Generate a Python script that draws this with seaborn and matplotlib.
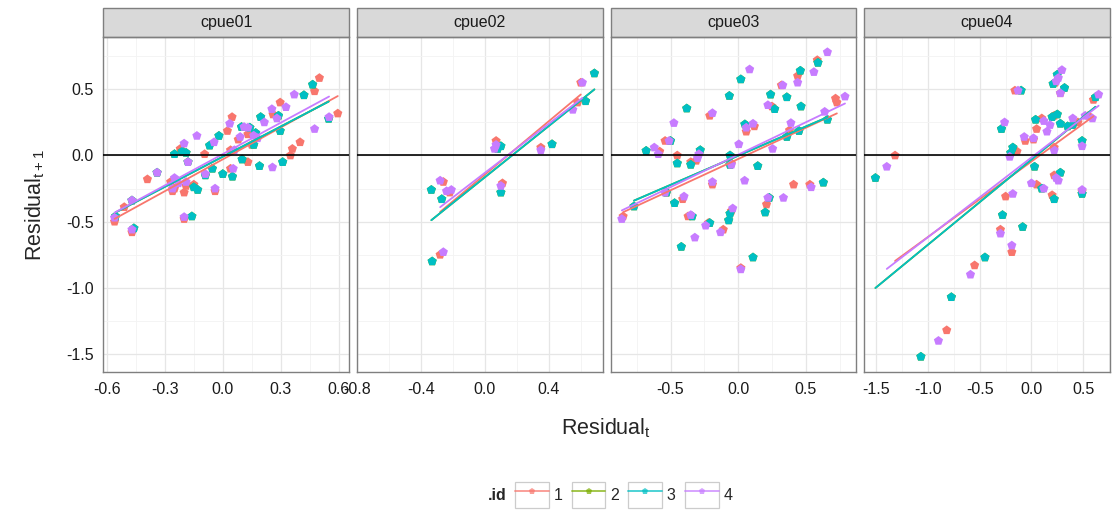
import numpy as np
import pandas as pd
import matplotlib
matplotlib.use("Agg")
import matplotlib.pyplot as plt
import seaborn as sns
from matplotlib.lines import Line2D
from matplotlib.patches import Rectangle
from matplotlib.ticker import AutoMinorLocator, FormatStrFormatter

# residual_t vs residual_t+1, one list of (x, y) per panel and .id
cpue01_id1 = [(0.50, 0.585), (0.475, 0.485), (0.297, 0.40), (0.595, 0.317), (0.048, 0.29),
              (0.024, 0.185), (0.13, 0.16), (0.40, 0.10), (-0.22, 0.05), (0.36, 0.05),
              (0.35, 0.0), (-0.094, 0.01), (0.04, 0.04), (0.13, -0.05), (0.04, -0.10),
              (-0.39, -0.18), (-0.25, -0.25), (-0.26, -0.27), (-0.19, -0.23), (-0.15, -0.22),
              (-0.04, -0.27), (-0.20, -0.28), (-0.51, -0.39), (-0.56, -0.50), (-0.20, -0.48),
              (-0.47, -0.58), (0.08, 0.12), (-0.27, -0.20), (0.26, 0.31), (0.15, 0.08)]
cpue01_id3 = [(0.465, 0.535), (0.42, 0.455), (0.288, 0.30), (0.548, 0.277), (0.196, 0.29),
              (0.097, 0.215), (0.297, 0.185), (-0.02, 0.148), (-0.068, 0.075), (-0.21, 0.03),
              (-0.19, 0.02), (0.10, -0.03), (-0.18, -0.05), (0.19, -0.08), (0.31, -0.05),
              (-0.34, -0.13), (-0.054, -0.10), (-0.09, -0.15), (0.0, -0.14), (0.05, -0.16),
              (-0.15, -0.24), (-0.13, -0.26), (-0.47, -0.34), (-0.555, -0.46), (-0.16, -0.46),
              (-0.46, -0.55), (0.17, 0.17), (0.16, 0.08), (0.14, 0.21), (-0.25, 0.01)]
cpue01_id4 = [(0.37, 0.46), (0.327, 0.365), (0.254, 0.35), (0.475, 0.20), (0.215, 0.25),
              (0.036, 0.24), (0.11, 0.215), (-0.134, 0.148), (-0.045, 0.10), (-0.20, 0.09),
              (0.09, 0.14), (0.16, 0.15), (0.06, 0.04), (-0.18, -0.05), (0.257, -0.09),
              (0.054, -0.10), (-0.34, -0.13), (-0.09, -0.14), (-0.25, -0.17), (-0.19, -0.20),
              (-0.04, -0.25), (-0.26, -0.25), (-0.47, -0.34), (-0.56, -0.47), (-0.20, -0.465),
              (-0.47, -0.56), (0.18, 0.13), (0.28, 0.28), (-0.23, -0.21), (0.13, 0.21),
              (0.55, 0.29)]

cpue02_id1 = [(0.60, 0.55), (0.58, 0.40), (0.35, 0.06), (0.07, 0.11), (0.08, 0.06),
              (0.11, -0.21), (-0.26, -0.20), (-0.22, -0.28), (-0.28, -0.75)]
cpue02_id3 = [(0.685, 0.62), (0.63, 0.41), (0.42, 0.085), (0.10, 0.07), (0.08, 0.05),
              (0.10, -0.28), (-0.335, -0.26), (-0.27, -0.33), (-0.33, -0.80)]
cpue02_id4 = [(0.61, 0.55), (0.55, 0.345), (0.35, 0.04), (0.07, 0.08), (0.06, 0.05),
              (0.10, -0.23), (-0.28, -0.19), (-0.24, -0.27), (-0.26, -0.73), (-0.21, -0.26)]

cpue03_id1 = [(0.585, 0.72), (0.44, 0.60), (0.32, 0.53), (0.25, 0.37), (-0.21, 0.30),
              (0.72, 0.43), (0.73, 0.40), (0.38, 0.19), (0.12, 0.22), (0.06, 0.18),
              (-0.54, 0.11), (-0.58, 0.03), (-0.31, -0.04), (-0.45, 0.0), (-0.35, -0.05),
              (-0.05, -0.06), (-0.19, -0.22), (-0.53, -0.28), (-0.41, -0.33), (0.41, -0.22),
              (0.53, -0.22), (0.21, -0.37), (-0.05, -0.42), (-0.37, -0.46), (-0.22, -0.51),
              (-0.11, -0.56), (0.02, -0.85), (-0.85, -0.46)]
cpue03_id3 = [(0.59, 0.70), (0.46, 0.64), (0.02, 0.575), (0.24, 0.46), (0.36, 0.44),
              (-0.065, 0.45), (0.27, 0.35), (0.465, 0.37), (-0.38, 0.355), (0.66, 0.27),
              (0.45, 0.185), (0.36, 0.14), (0.05, 0.235), (-0.50, 0.11), (-0.68, 0.035),
              (-0.28, 0.04), (-0.45, -0.06), (-0.35, -0.07), (-0.06, 0.0), (-0.06, -0.07),
              (0.145, -0.08), (-0.53, -0.28), (-0.47, -0.36), (-0.77, -0.385), (0.63, -0.205),
              (0.23, -0.32), (0.20, -0.43), (-0.06, -0.44), (-0.07, -0.49), (-0.34, -0.46),
              (-0.21, -0.51), (-0.42, -0.69), (0.11, -0.77)]
cpue03_id4 = [(0.66, 0.78), (0.56, 0.63), (0.44, 0.55), (0.085, 0.65), (0.33, 0.53),
              (0.22, 0.38), (-0.19, 0.32), (-0.475, 0.245), (0.79, 0.445), (0.64, 0.33),
              (0.39, 0.245), (0.06, 0.21), (0.11, 0.24), (0.005, 0.085), (0.255, 0.05),
              (-0.51, 0.11), (-0.62, 0.06), (-0.59, 0.01), (-0.29, 0.01), (-0.30, -0.02),
              (-0.05, -0.07), (-0.19, -0.20), (0.048, -0.19), (-0.54, -0.28), (-0.40, -0.31),
              (-0.86, -0.48), (0.54, -0.24), (0.335, -0.32), (0.22, -0.32), (-0.04, -0.40),
              (-0.35, -0.45), (-0.24, -0.53), (-0.13, -0.58), (-0.32, -0.62), (0.02, -0.86)]

cpue04_id1 = [(-1.32, 0.0), (0.23, 0.55), (0.28, 0.47), (-0.16, 0.49), (0.60, 0.42),
              (0.10, 0.28), (0.22, 0.30), (0.05, 0.20), (0.02, 0.12), (0.45, 0.25),
              (0.55, 0.30), (-0.06, 0.11), (0.22, 0.06), (-0.14, 0.03), (0.22, -0.15),
              (0.05, -0.22), (0.20, -0.30), (0.49, -0.27), (-0.25, -0.31), (-0.30, -0.56),
              (-0.19, -0.73), (-0.55, -0.83), (-0.82, -1.32)]
cpue04_id3 = [(-1.51, -0.17), (0.25, 0.61), (0.21, 0.54), (0.32, 0.51), (-0.10, 0.49),
              (0.62, 0.44), (-0.29, 0.20), (0.04, 0.27), (0.25, 0.31), (0.20, 0.29),
              (0.28, 0.24), (0.40, 0.23), (0.35, 0.22), (0.49, 0.11), (-0.18, 0.06),
              (-0.20, 0.02), (0.03, -0.085), (0.28, -0.13), (0.10, -0.25), (0.22, -0.33),
              (0.49, -0.29), (-0.28, -0.45), (-0.085, -0.54), (-0.45, -0.77), (-0.775, -1.07),
              (-1.07, -1.52)]
cpue04_id4 = [(0.295, 0.645), (0.26, 0.585), (0.24, 0.56), (0.28, 0.47), (-0.13, 0.49),
              (0.65, 0.46), (-0.26, 0.25), (0.12, 0.26), (0.18, 0.23), (0.15, 0.18),
              (0.02, 0.13), (0.40, 0.28), (0.52, 0.30), (0.59, 0.28), (-0.07, 0.14),
              (0.49, 0.07), (0.22, 0.04), (-0.21, -0.01), (-1.40, -0.085), (0.24, -0.17),
              (0.26, -0.19), (0.0, -0.21), (0.12, -0.25), (0.49, -0.26), (-0.18, -0.29),
              (-0.30, -0.59), (-0.19, -0.68), (-0.59, -0.90), (-0.90, -1.40)]

# .id 2 sits exactly under .id 3 in the picture
cpue01_id2 = cpue01_id3
cpue02_id2 = cpue02_id3
cpue03_id2 = cpue03_id3
cpue04_id2 = cpue04_id3

panels = ["cpue01", "cpue02", "cpue03", "cpue04"]
ids = ["1", "2", "3", "4"]
colors = ["#F8766D", "#7CAE00", "#00BFC4", "#C77CFF"]
xticks = {"cpue01": [-0.6, -0.3, 0.0, 0.3, 0.6],
          "cpue02": [-0.8, -0.4, 0.0, 0.4],
          "cpue03": [-0.5, 0.0, 0.5],
          "cpue04": [-1.5, -1.0, -0.5, 0.0, 0.5]}

series = {
    ("cpue01", "1"): cpue01_id1, ("cpue01", "2"): cpue01_id2, ("cpue01", "3"): cpue01_id3, ("cpue01", "4"): cpue01_id4,
    ("cpue02", "1"): cpue02_id1, ("cpue02", "2"): cpue02_id2, ("cpue02", "3"): cpue02_id3, ("cpue02", "4"): cpue02_id4,
    ("cpue03", "1"): cpue03_id1, ("cpue03", "2"): cpue03_id2, ("cpue03", "3"): cpue03_id3, ("cpue03", "4"): cpue03_id4,
    ("cpue04", "1"): cpue04_id1, ("cpue04", "2"): cpue04_id2, ("cpue04", "3"): cpue04_id3, ("cpue04", "4"): cpue04_id4,
}
rows = []
for (p, i), pts in series.items():
    for x, y in pts:
        rows.append({"panel": p, "id": i, "x": x, "y": y})
df = pd.DataFrame(rows)

sns.set_style("white")
plt.rcParams["font.family"] = ["Liberation Sans", "DejaVu Sans"]
plt.rcParams["axes.unicode_minus"] = False

fig, axes = plt.subplots(1, 4, figsize=(11.12, 5.13), dpi=100, sharey=True)
fig.subplots_adjust(left=0.093, right=0.998, top=0.928, bottom=0.275, wspace=0.033)

pal = dict(zip(ids, colors))
for ax, p in zip(axes, panels):
    sub = df[df["panel"] == p]
    sns.scatterplot(data=sub, x="x", y="y", hue="id", palette=pal, hue_order=ids,
                    marker="p", s=48, linewidth=0, legend=False, ax=ax, zorder=2)
    for i in ids:
        sns.regplot(data=sub[sub["id"] == i], x="x", y="y", ax=ax, scatter=False, ci=None,
                    color=pal[i], line_kws={"lw": 1.3, "zorder": 3})
    ax.axhline(0, color="black", lw=1.2, zorder=4)

    ax.set_facecolor("white")
    for sp in ax.spines.values():
        sp.set_color("#7f7f7f")
        sp.set_linewidth(1.0)
    ax.set_xticks(xticks[p])
    ax.xaxis.set_minor_locator(AutoMinorLocator(2))
    ax.xaxis.set_major_formatter(FormatStrFormatter("%.1f"))
    ax.set_axisbelow(True)
    ax.grid(which="major", color="#e6e6e6", lw=0.9)
    ax.grid(which="minor", color="#f3f3f3", lw=0.6)
    ax.tick_params(which="major", length=4, width=0.9, color="#333333",
                   labelsize=11.5, labelcolor="#1a1a1a", pad=3)
    ax.tick_params(which="minor", length=0)
    ax.set_xlabel("")
    ax.set_ylabel("")

    ax.add_patch(Rectangle((0, 1.0), 1, 0.0866, transform=ax.transAxes, facecolor="#d9d9d9",
                           edgecolor="#7f7f7f", lw=1.0, clip_on=False))
    ax.text(0.5, 1.043, p, transform=ax.transAxes, ha="center", va="center",
            fontsize=11.5, color="#1a1a1a")

axes[0].set_yticks([-1.5, -1.0, -0.5, 0.0, 0.5])
axes[0].yaxis.set_minor_locator(AutoMinorLocator(2))
axes[0].yaxis.set_major_formatter(FormatStrFormatter("%.1f"))
axes[0].set_ylabel(r"Residual$_{\mathregular{t+1}}$", fontsize=15.5, labelpad=14)

fig.text(0.545, 0.165, r"Residual$_{\mathregular{t}}$", ha="center", va="center", fontsize=15.5)

# legend keys: grey framed box with a faded line and a point, like ggplot's
handles = [(Rectangle((0, 0), 1, 1, facecolor="white", edgecolor="#cccccc", lw=0.9),
            Line2D([0], [0], color=c, lw=1.4, alpha=0.7, marker="p", markersize=5,
                   markeredgewidth=0, markerfacecolor=c))
           for c in colors]
fig.legend(handles, ids, loc="center", bbox_to_anchor=(0.561, 0.035), ncol=4, frameon=False,
           handlelength=2.1, handleheight=2.1, handletextpad=0.3, columnspacing=0.6,
           fontsize=11.5)
fig.text(0.447, 0.035, ".id", ha="center", va="center", fontsize=11.5, fontweight="bold")

fig.savefig("out.png", dpi=100)
